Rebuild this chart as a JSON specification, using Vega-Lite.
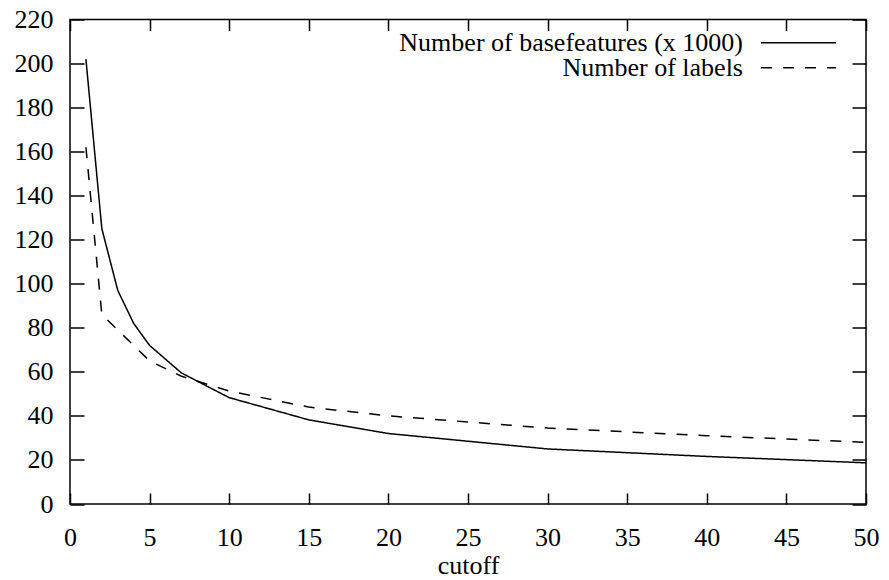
{
  "$schema": "https://vega.github.io/schema/vega-lite/v6.json",
  "autosize": {"type": "none"},
  "width": 796,
  "height": 484.5,
  "padding": {"left": 70, "top": 19.5, "right": 23, "bottom": 76},
  "background": "white",
  "data": {
    "values": [
      {"cutoff": 1, "value": 202, "series": "Number of basefeatures (x 1000)"},
      {"cutoff": 2, "value": 125, "series": "Number of basefeatures (x 1000)"},
      {"cutoff": 3, "value": 97, "series": "Number of basefeatures (x 1000)"},
      {"cutoff": 4, "value": 82, "series": "Number of basefeatures (x 1000)"},
      {"cutoff": 5, "value": 72, "series": "Number of basefeatures (x 1000)"},
      {"cutoff": 7, "value": 59.5, "series": "Number of basefeatures (x 1000)"},
      {"cutoff": 10, "value": 48.3, "series": "Number of basefeatures (x 1000)"},
      {"cutoff": 15, "value": 38.2, "series": "Number of basefeatures (x 1000)"},
      {"cutoff": 20, "value": 32, "series": "Number of basefeatures (x 1000)"},
      {"cutoff": 30, "value": 25, "series": "Number of basefeatures (x 1000)"},
      {"cutoff": 40, "value": 21.6, "series": "Number of basefeatures (x 1000)"},
      {"cutoff": 50, "value": 18.7, "series": "Number of basefeatures (x 1000)"},
      {"cutoff": 1, "value": 162, "series": "Number of labels"},
      {"cutoff": 2, "value": 86, "series": "Number of labels"},
      {"cutoff": 3, "value": 79, "series": "Number of labels"},
      {"cutoff": 4, "value": 72, "series": "Number of labels"},
      {"cutoff": 5, "value": 65, "series": "Number of labels"},
      {"cutoff": 7, "value": 58, "series": "Number of labels"},
      {"cutoff": 10, "value": 51.3, "series": "Number of labels"},
      {"cutoff": 15, "value": 44, "series": "Number of labels"},
      {"cutoff": 20, "value": 40, "series": "Number of labels"},
      {"cutoff": 30, "value": 34.5, "series": "Number of labels"},
      {"cutoff": 40, "value": 31, "series": "Number of labels"},
      {"cutoff": 50, "value": 28, "series": "Number of labels"}
    ]
  },
  "layer": [
    {
      "mark": {"type": "line", "color": "black", "strokeWidth": 1.5},
      "encoding": {
        "x": {
          "field": "cutoff", "type": "quantitative",
          "scale": {"domain": [0, 50], "nice": false, "zero": false},
          "axis": {
            "orient": "bottom", "title": "cutoff",
            "values": [0, 5, 10, 15, 20, 25, 30, 35, 40, 45, 50],
            "tickSize": -11, "labelPadding": 52, "labelBaseline": "alphabetic",
            "titleY": 69, "titleBaseline": "alphabetic", "labelFlush": false
          }
        },
        "y": {
          "field": "value", "type": "quantitative",
          "scale": {"domain": [0, 220], "nice": false},
          "axis": {
            "orient": "left", "title": null,
            "values": [0, 20, 40, 60, 80, 100, 120, 140, 160, 180, 200, 220],
            "tickSize": -14, "labelPadding": 31, "labelFlush": false
          }
        },
        "strokeDash": {
          "field": "series", "type": "nominal",
          "scale": {"domain": ["Number of basefeatures (x 1000)", "Number of labels"], "range": [[1, 0], [11, 11]]},
          "legend": {
            "title": null,
            "orient": "none",
            "legendX": 690,
            "legendY": 11.2,
            "padding": 0,
            "symbolType": "stroke",
            "symbolSize": 5625,
            "symbolStrokeWidth": 1.5,
            "symbolStrokeColor": "black",
            "rowPadding": -2,
            "labelAlign": "right",
            "labelBaseline": "middle",
            "labelOffset": -94,
            "labelFontSize": 26,
            "labelFont": "Liberation Serif, Times New Roman, Times, serif",
            "labelColor": "black",
            "labelLimit": 0,
            "encode": {
              "symbols": {"update": {"y": {"value": 12}}},
              "labels": {"update": {"y": {"value": 12}}}
            }
          }
        }
      }
    },
    {
      "mark": {"type": "line", "opacity": 0},
      "encoding": {
        "x": {
          "field": "cutoff", "type": "quantitative",
          "axis": {
            "orient": "top", "title": null, "labels": false,
            "values": [0, 5, 10, 15, 20, 25, 30, 35, 40, 45, 50],
            "tickSize": -11
          }
        },
        "y": {
          "field": "value", "type": "quantitative",
          "axis": {
            "orient": "right", "title": null, "labels": false,
            "values": [0, 20, 40, 60, 80, 100, 120, 140, 160, 180, 200, 220],
            "tickSize": -14
          }
        },
        "detail": {"field": "series", "type": "nominal"}
      }
    }
  ],
  "resolve": {"axis": {"x": "independent", "y": "independent"}},
  "config": {
    "font": "Liberation Serif, Times New Roman, Times, serif",
    "view": {"stroke": "black", "strokeWidth": 1.5},
    "axis": {
      "domain": false, "grid": false,
      "tickColor": "black", "tickWidth": 1.5,
      "labelFont": "Liberation Serif, Times New Roman, Times, serif", "labelFontSize": 26, "labelColor": "black",
      "titleFont": "Liberation Serif, Times New Roman, Times, serif", "titleFontSize": 26, "titleColor": "black", "titleFontWeight": "normal"
    }
  }
}
